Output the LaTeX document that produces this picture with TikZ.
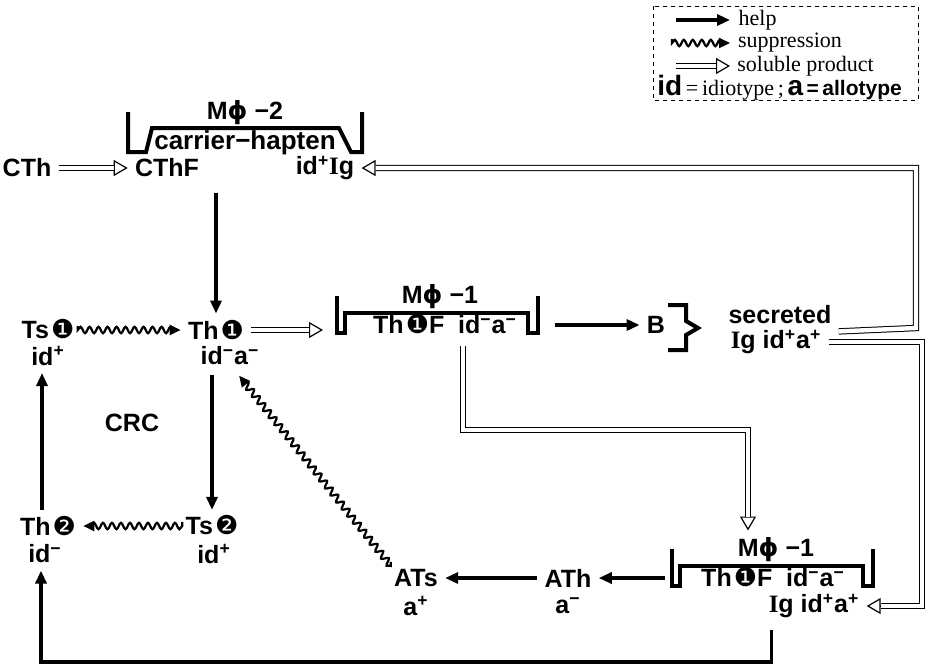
\documentclass[tikz,border=0pt]{standalone}
\usepackage{fontspec}
\setmainfont{Liberation Sans}
\newfontfamily\lgdfont{Liberation Serif}
\newfontfamily\symfont{DejaVu Sans}
\usetikzlibrary{arrows.meta,decorations.pathmorphing,calc}

\newcommand\one{\kern1pt\smash{\symfont\mdseries\fontsize{13}{13}\selectfont ❶}}
\newcommand\two{\kern1pt\smash{\symfont\mdseries\fontsize{13}{13}\selectfont ❷}}
\newcommand\Ig{{\lgdfont I}g}
\newcommand\mphi{M{\symfont ϕ}}
\newcommand\up[1]{\textsuperscript{#1}}
% a soluble product: thin open head under a double line
\newcommand\soluble[1]{\draw[solhead] #1; \draw[solline] #1;}

\begin{document}
\begin{tikzpicture}[x=0.5pt,y=-0.5pt,
  font=\bfseries\fontsize{12.5}{14}\selectfont,
  every node/.style={inner sep=1.5pt},
  help/.style={line width=1.7pt,-{Triangle[length=6.5pt,width=5.5pt]},shorten <=2pt,shorten >=2pt},
  supp/.style={line width=1.1pt,-{Triangle[length=5.5pt,width=5pt]},shorten <=2pt,shorten >=2pt,
    decorate,decoration={snake,segment length=4.5pt,amplitude=1.6pt,post length=5pt}},
  solline/.style={double,double distance=2.2pt,line width=0.5pt,shorten <=2pt,shorten >=9pt},
  solhead/.style={line width=0.6pt,-{Triangle[open,length=7pt,width=8pt]},shorten <=2pt,shorten >=2pt},
  brk/.style={line width=2pt},
  lgd/.style={font=\lgdfont\fontsize{11}{12}\selectfont}]
  \useasboundingbox (0,0) rectangle (930,670);

  % legend
  \draw[line width=0.5pt,dash pattern=on 2pt off 2pt] (653,6) rectangle (918,100);
  \draw[help] (672,20) -- ++(62,0) node[right,lgd] (lhelp) {help};
  \draw[supp] (672,43) -- ++(62,0) node[right,lgd] (lsupp) {suppression};
  \soluble{(672,66) -- ++(62,0)}
  \node[right,lgd] (lsol) at (734,66) {soluble product};
  \node[right] (lid) at (654,88) {\fontsize{14}{14}\selectfont id{\lgdfont\mdseries\fontsize{11}{12}\selectfont\,=\,idiotype\,;\,}a{\fontsize{10.5}{12}\selectfont\,=\,allotype}};

  % carrier-hapten macrophage
  \node (m2) at (245,113) {\mphi\ −2};
  \node[font=\bfseries\fontsize{13}{15}\selectfont] (carr) at (245,143) {carrier−hapten};
  \draw[brk] (128,112) |- (146,152) -- (152,128) -- (339,128) -- (351,152) -| (362,112);
  \node (cth) at (27,168) {CTh};
  \node (cthf) at (167,168) {CThF};
  \node (idig) at (325,168) {id\up{+}\Ig};
  \soluble{(cth) -- (cthf)}

  % idiotype circuit
  \node (ts1) at (48,330) {Ts\one};
  \node (ts1id) at (48,356) {id\up{+}};
  \node (th1) at (216,330) {Th\one};
  \node (th1id) at (230,356) {id\up{−}a\up{−}};
  \node (crc) at (132,423) {CRC};
  \node (th2) at (48,526) {Th\two};
  \node (th2id) at (45,554) {id\up{−}};
  \node (ts2) at (212,526) {Ts\two};
  \node (ts2id) at (214,554) {id\up{+}};
  \draw[help] (cthf.south -| th1) ++(0,8) -- (th1);
  \draw[supp] (ts1) -- (th1);
  \draw[help] (th1id.south -| ts2) ++(0,2) -- (ts2);
  \draw[supp] (ts2) -- (th2);
  \draw[help] ([xshift=-3pt]th2.north) -- ([xshift=-3pt]ts1id.south);

  % first macrophage and B cell
  \node (m1) at (440,297) {\mphi\ −1};
  \node (m1f) at (445,325) {Th\one F\ \ id\up{−}a\up{−}};
  \coordinate (m1l) at (337,296);
  \coordinate (m1r) at (538,296);
  \draw[brk] (m1l) |- (345,333) |- (528,313) |- (538,333) -- (m1r);
  \soluble{(th1) -- ($(m1l |- th1)+(-10,0)$)}
  \node (b) at (656,325) {B};
  \draw[help] ($(m1r |- b)+(13,0)$) -- (b);
  \draw[brk] (668,305) -- (686,305) -- (686,321) -- (698,328) -- (686,335) -- (686,350) -- (668,350);
  \node (sec) at (780,315) {secreted};
  \node (secig) at (776,342) {\Ig\ id\up{+}a\up{+}};

  % second macrophage
  \node (m3) at (776,550) {\mphi\ −1};
  \node (m3f) at (773,578) {Th\one F\ \ id\up{−}a\up{−}};
  \node (igl) at (814,606) {\Ig\ id\up{+}a\up{+}};
  \coordinate (m3l) at (672,549);
  \coordinate (m3r) at (873,549);
  \draw[brk] (m3l) |- (680,586) |- (863,566) |- (873,586) -- (m3r);
  \node (ath) at (568,578) {ATh};
  \node (atha) at (568,606) {a\up{−}};
  \node (ats) at (416,578) {ATs};
  \node (atsa) at (416,606) {a\up{+}};
  \draw[help] ($(m3l |- ath)+(-3,0)$) -- (ath);
  \draw[help] (ath) -- (ats);
  \draw[supp] (ats.north west) -- ([xshift=-13pt,yshift=-2pt]th1id.south east);

  % secreted products
  \coordinate (rtop) at (916,328);
  \coordinate (rbot) at (922,343);
  \coordinate (mid) at (748,430);
  \soluble{([yshift=-2pt]sec.south east) -- (rtop) -- (rtop |- idig) -- (idig.east)}
  \soluble{(secig.east) -- (secig -| rbot) -- (rbot |- igl) -- (igl.east)}
  \soluble{([xshift=9pt,yshift=-2pt]m1f.south) |- (mid) -- (mid |- m3.north)}
  \coordinate (bot) at (41,662);
  \draw[help] ([xshift=3pt,yshift=-2pt]igl.south west) |- (bot) -- (bot |- th2id.south);
\end{tikzpicture}
\end{document}
